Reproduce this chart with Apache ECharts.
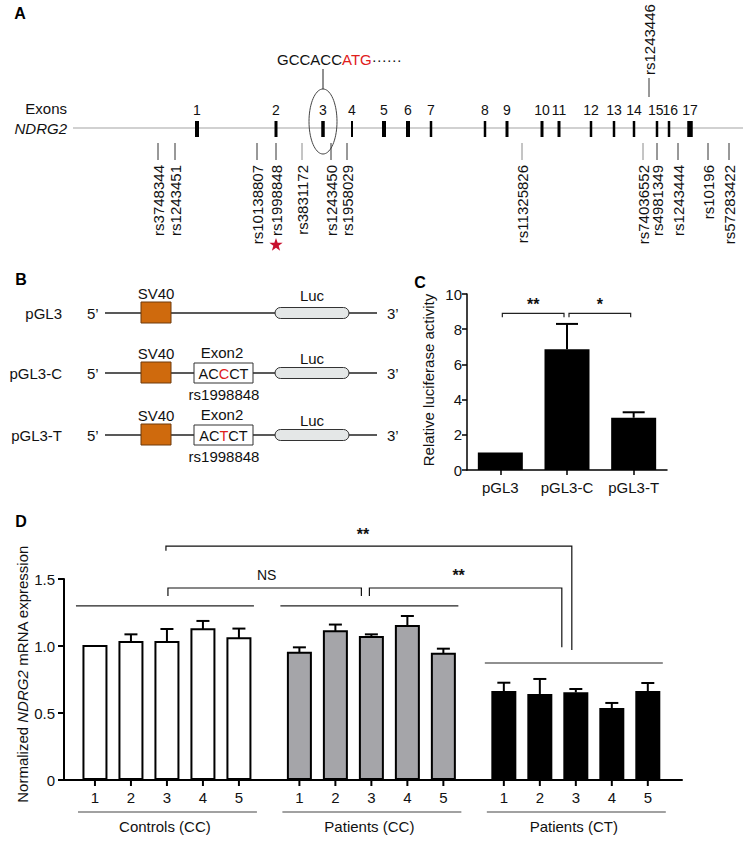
<!DOCTYPE html>
<html><head><meta charset="utf-8">
<script src="https://cdn.jsdelivr.net/npm/echarts@6/dist/echarts.min.js"></script>
<style>html,body{margin:0;padding:0;background:#fff}#c{width:753px;height:847px}</style>
</head><body><div id="c"></div>
<script>
// ---------- Panel A data (gene map, relative coordinates along NDRG2) ----------
const geneStart = 0, geneEnd = 670;
const exonLabels = ['1','2','3','4','5','6','7','8','9','10','11','12','13','14','15','16','17'];
const exonPos = [124, 203, 250, 279, 311, 335, 358, 412, 434, 469, 486, 518, 541, 561, 584, 596, 617];
const exonLength = [4, 3, 3.5, 2, 4, 4, 2.5, 2.5, 3, 3, 3, 2.5, 2.5, 2.5, 2.5, 2.5, 5.5];
const snpBelowNames = ['rs3748344','rs1243451','rs10138807','rs1998848','rs3831172','rs1243450','rs1958029','rs11325826','rs74036552','rs4981349','rs1243444','rs10196','rs57283422'];
const snpBelowPos = [85, 102, 184, 203, 229, 258, 274, 449, 570, 584, 605, 635, 656];
const snpAboveNames = ['rs1243446'];
const snpAbovePos = [576];
const highlightSnp = 'rs1998848';
const startExon = '3';
const kozakSeq = ['GCCACC', 'ATG', '······'];

// ---------- Panel B data ----------
const constructs = ['pGL3', 'pGL3-C', 'pGL3-T'];
const inserts = [null, ['AC', 'C', 'CT'], ['AC', 'T', 'CT']];

// ---------- Panel C data ----------
const cCats = ['pGL3', 'pGL3-C', 'pGL3-T'];
const cMean = [1.0, 6.86, 2.97];
const cErr = [0, 1.44, 0.31];
const cSigLabels = ['**', '*'];
const cSigFrom = [0, 1];
const cSigTo = [1, 2];
const cSigY = [8.9, 8.9];
const cTicks = [0, 2, 4, 6, 8, 10];

// ---------- Panel D data ----------
const dGroups = ['Controls (CC)', 'Patients (CC)', 'Patients (CT)'];
const dSubjects = ['1', '2', '3', '4', '5'];
const dMean = [
  [1.00, 1.03, 1.03, 1.125, 1.057],
  [0.95, 1.11, 1.067, 1.149, 0.943],
  [0.664, 0.642, 0.654, 0.537, 0.664]
];
const dErr = [
  [0, 0.057, 0.097, 0.062, 0.073],
  [0.04, 0.05, 0.02, 0.075, 0.037],
  [0.062, 0.112, 0.025, 0.038, 0.06]
];
const dGroupLine = [1.30, 1.30, 0.873];
const dSigLabels = ['**', 'NS', '**'];
const dSigY = [1.746, 1.433, 1.433];
const dSigFrom = [[0, 2], [0, 2], [1, 2]];
const dSigTo = [[2, 2], [1, 2], [2, 2]];
const dSigLeftEnd = [1.71, 1.373, 1.373];
const dSigRightEnd = [0.97, 1.373, 0.99];
const dTicks = [0, 0.5, 1.0, 1.5];

// ---------- helpers ----------
const FONT = '"Liberation Sans", Arial, Helvetica, sans-serif';
function f(size, extra) { return (extra ? extra + ' ' : '') + size + 'px ' + FONT; }
function txt(x, y, text, opt) {
  opt = opt || {};
  return {type: 'text', x: x, y: y, rotation: opt.rotation || 0, style: {
    text: text, font: opt.font || f(15), fill: opt.fill || '#111',
    align: opt.align || 'center', verticalAlign: opt.va || 'middle', rich: opt.rich
  }};
}
function starPoints(cx, cy, R, r) {
  const pts = [];
  for (let k = 0; k < 10; k++) {
    const a = -Math.PI / 2 + k * Math.PI / 5;
    const rr = k % 2 === 0 ? R : r;
    pts.push([cx + rr * Math.cos(a), cy + rr * Math.sin(a)]);
  }
  return pts;
}
function ellipsePoints(cx, cy, rx, ry) {
  const pts = [];
  for (let k = 0; k < 72; k++) {
    const a = k / 72 * Math.PI * 2;
    pts.push([cx + rx * Math.cos(a), cy + ry * Math.sin(a)]);
  }
  return pts;
}

// D layout: bar position on a value axis
const GROUP_GAP = 5.68;
function dPos(g, i) { return g * GROUP_GAP + i; }
const dBarData = [];
dMean.forEach((arr, g) => arr.forEach((v, i) => dBarData.push([dPos(g, i), v, dErr[g][i], g, i])));
const dErrData = dBarData.filter(d => d[2] > 0);
const dFill = ['#ffffff', '#a5a5a9', '#000000'];

const chart = echarts.init(document.getElementById('c'), null, {renderer: 'svg'});

const series = [];

// ===== Panel A =====
series.push({
  type: 'custom', xAxisIndex: 0, yAxisIndex: 0, silent: true, data: [[0, 0]],
  renderItem: function (p, api) {
    const a = api.coord([geneStart, 0]), b = api.coord([geneEnd, 0]);
    return {type: 'group', children: [
      {type: 'line', shape: {x1: a[0], y1: a[1], x2: b[0], y2: b[1]}, style: {stroke: '#c2c2c2', lineWidth: 1.6}},
      txt(a[0] - 6, a[1] - 20, 'Exons', {align: 'right'}),
      txt(a[0] - 6, a[1], 'NDRG2', {align: 'right', font: f(15, 'italic')})
    ]};
  }
});
const exonLabelNudge = {'15': -1.2, '16': 1.2};
series.push({
  type: 'custom', xAxisIndex: 0, yAxisIndex: 0, silent: true,
  data: exonPos.map((x, i) => [x, exonLength[i]]),
  renderItem: function (p, api) {
    const c = api.coord([api.value(0), 0]);
    const w = api.size([api.value(1), 0])[0];
    const label = exonLabels[p.dataIndex];
    const children = [
      {type: 'rect', shape: {x: c[0] - w / 2, y: c[1] - 7, width: w, height: 16}, style: {fill: '#000'}},
      txt(c[0] + (exonLabelNudge[label] || 0), c[1] - 18, label, {font: f(14)})
    ];
    if (label === startExon) {
      children.push({type: 'polygon', shape: {points: ellipsePoints(c[0], c[1] - 6.5, 14, 32.5)}, style: {fill: 'none', stroke: '#444', lineWidth: 1}});
      children.push({type: 'line', shape: {x1: c[0], y1: c[1] - 59, x2: c[0], y2: c[1] - 39}, style: {stroke: '#222', lineWidth: 1}});
      children.push(txt(c[0] - 46, c[1] - 69, '{k|' + kozakSeq[0] + '}{r|' + kozakSeq[1] + '}{k|' + kozakSeq[2] + '}', {
        align: 'left', rich: {k: {font: f(15), fill: '#111'}, r: {font: f(15), fill: '#e0201b'}}
      }));
    }
    return {type: 'group', children: children};
  }
});
const lightSnps = ['rs3831172', 'rs11325826', 'rs74036552'];
series.push({
  type: 'custom', xAxisIndex: 0, yAxisIndex: 0, silent: true,
  data: snpBelowPos.map(x => [x, 0]),
  renderItem: function (p, api) {
    const c = api.coord([api.value(0), 0]);
    const name = snpBelowNames[p.dataIndex];
    const children = [
      {type: 'line', shape: {x1: c[0], y1: c[1] + 15, x2: c[0], y2: c[1] + 32}, style: {stroke: lightSnps.indexOf(name) >= 0 ? '#8a8a8a' : '#333', lineWidth: 1}},
      txt(c[0], c[1] + 37, name, {rotation: Math.PI / 2, align: 'right'})
    ];
    if (name === highlightSnp) {
      children.push({type: 'polygon', shape: {points: starPoints(c[0], c[1] + 117, 7, 2.8)}, style: {fill: '#c8102e'}});
    }
    return {type: 'group', children: children};
  }
});
series.push({
  type: 'custom', xAxisIndex: 0, yAxisIndex: 0, silent: true,
  data: snpAbovePos.map(x => [x, 0]),
  renderItem: function (p, api) {
    const c = api.coord([api.value(0), 0]);
    return {type: 'group', children: [
      {type: 'line', shape: {x1: c[0], y1: c[1] - 50, x2: c[0], y2: c[1] - 31}, style: {stroke: '#333', lineWidth: 1}},
      txt(c[0], c[1] - 53, snpAboveNames[p.dataIndex], {rotation: Math.PI / 2, align: 'left'})
    ]};
  }
});

// ===== Panel C =====
series.push({
  type: 'bar', xAxisIndex: 1, yAxisIndex: 1, data: cMean, barWidth: 45,
  itemStyle: {color: '#000'}, silent: true, z: 2
});
series.push({
  type: 'custom', xAxisIndex: 1, yAxisIndex: 1, silent: true, z: 3,
  data: cMean.map((v, i) => [i, v, cErr[i]]).filter(d => d[2] > 0),
  renderItem: function (p, api) {
    const i = api.value(0), v = api.value(1), e = api.value(2);
    const a = api.coord([i, v]), b = api.coord([i, v + e]);
    return {type: 'group', children: [
      {type: 'line', shape: {x1: a[0], y1: a[1], x2: b[0], y2: b[1]}, style: {stroke: '#000', lineWidth: 2}},
      {type: 'line', shape: {x1: b[0] - 11, y1: b[1], x2: b[0] + 11, y2: b[1]}, style: {stroke: '#000', lineWidth: 2}}
    ]};
  }
});
series.push({
  type: 'custom', xAxisIndex: 1, yAxisIndex: 1, silent: true,
  data: cSigLabels.map((s, i) => [i, cSigY[i]]),
  renderItem: function (p, api) {
    const k = p.dataIndex;
    const a = api.coord([cSigFrom[k], cSigY[k]]), b = api.coord([cSigTo[k], cSigY[k]]);
    const lx = a[0] + 2, rx = b[0] - 3, y = a[1];
    return {type: 'group', children: [
      {type: 'polyline', shape: {points: [[lx, y + 4], [lx, y], [rx, y], [rx, y + 4]]}, style: {fill: 'none', stroke: '#222', lineWidth: 1.2}},
      txt((lx + rx) / 2, y - 9, cSigLabels[k], {font: f(16, 'bold')})
    ]};
  }
});

// ===== Panel D =====
series.push({
  type: 'custom', xAxisIndex: 2, yAxisIndex: 2, silent: true, z: 2,
  data: dBarData,
  renderItem: function (p, api) {
    const x = api.value(0), v = api.value(1), g = api.value(3);
    const top = api.coord([x, v]), base = api.coord([x, 0]);
    const children = [];
    if (g === 2) {
      children.push({type: 'rect', shape: {x: top[0] - 12.5, y: top[1], width: 25, height: base[1] - top[1]}, style: {fill: '#000'}});
    } else {
      children.push({type: 'rect', shape: {x: top[0] - 11.5, y: top[1], width: 23, height: base[1] - top[1] - 1}, style: {fill: dFill[g], stroke: '#000', lineWidth: 2}});
    }
    children.push({type: 'line', shape: {x1: base[0], y1: base[1], x2: base[0], y2: base[1] + 6}, style: {stroke: '#000', lineWidth: 2}});
    children.push(txt(base[0], base[1] + 17, dSubjects[api.value(4)]));
    return {type: 'group', children: children};
  }
});
series.push({
  type: 'custom', xAxisIndex: 2, yAxisIndex: 2, silent: true, z: 3,
  data: dErrData,
  renderItem: function (p, api) {
    const x = api.value(0), v = api.value(1), e = api.value(2);
    const top = api.coord([x, v]), t = api.coord([x, v + e]);
    return {type: 'group', children: [
      {type: 'line', shape: {x1: top[0], y1: top[1], x2: t[0], y2: t[1]}, style: {stroke: '#000', lineWidth: 2}},
      {type: 'line', shape: {x1: t[0] - 6.5, y1: t[1], x2: t[0] + 6.5, y2: t[1]}, style: {stroke: '#000', lineWidth: 2}}
    ]};
  }
});
series.push({
  type: 'custom', xAxisIndex: 2, yAxisIndex: 2, silent: true,
  data: dGroups.map((s, g) => [dPos(g, 0), dGroupLine[g]]),
  renderItem: function (p, api) {
    const g = p.dataIndex;
    const a = api.coord([dPos(g, 0), dGroupLine[g]]), b = api.coord([dPos(g, 4), dGroupLine[g]]);
    const a0 = api.coord([dPos(g, 0), 0]), b0 = api.coord([dPos(g, 4), 0]);
    return {type: 'group', children: [
      {type: 'line', shape: {x1: a[0] - 19, y1: a[1], x2: b[0] + 15, y2: b[1]}, style: {stroke: '#222', lineWidth: 1.2}},
      {type: 'line', shape: {x1: a0[0] - 17, y1: a0[1] + 32, x2: b0[0] + 18, y2: b0[1] + 32}, style: {stroke: '#444', lineWidth: 1.2}},
      txt((a0[0] + b0[0]) / 2 - 2, a0[1] + 46, dGroups[g])
    ]};
  }
});
const dSigOffset = [[-1, -4], [1, -10], [-2, -14]];
series.push({
  type: 'custom', xAxisIndex: 2, yAxisIndex: 2, silent: true,
  data: dSigLabels.map((s, k) => [0, dSigY[k]]),
  renderItem: function (p, api) {
    const k = p.dataIndex;
    const a = api.coord([dPos(dSigFrom[k][0], dSigFrom[k][1]), dSigY[k]]);
    const b = api.coord([dPos(dSigTo[k][0], dSigTo[k][1]), dSigY[k]]);
    const la = api.coord([0, dSigLeftEnd[k]])[1], rb = api.coord([0, dSigRightEnd[k]])[1];
    const lx = a[0] + dSigOffset[k][0], rx = b[0] + dSigOffset[k][1], y = a[1];
    const isNS = dSigLabels[k] === 'NS';
    return {type: 'group', children: [
      {type: 'polyline', shape: {points: [[lx, la], [lx, y], [rx, y], [rx, rb]]}, style: {fill: 'none', stroke: '#111', lineWidth: 1.2}},
      txt((lx + rx) / 2 - (k === 0 ? 6 : (isNS ? -2 : 7)), y - (isNS ? 13 : 12), dSigLabels[k], {font: isNS ? f(14) : f(16, 'bold')})
    ]};
  }
});

// ===== Panel B (schematic constructs) =====
const graphics = [];
const rowY = [313, 373, 435];
const lucLabelGap = [18, 15, 15];
constructs.forEach((name, i) => {
  const y = rowY[i];
  graphics.push({type: 'line', shape: {x1: 105, y1: y, x2: 377, y2: y}, style: {stroke: '#222', lineWidth: 1.5}});
  graphics.push(txt(62, y, name, {align: 'right'}));
  graphics.push(txt(87, y, '5\u2019', {align: 'left'}));
  graphics.push(txt(387, y, '3\u2019', {align: 'left'}));
  graphics.push({type: 'rect', shape: {x: 141, y: y - 11, width: 30, height: 21}, style: {fill: '#cf6a0d', stroke: '#6e3b0c', lineWidth: 1}});
  graphics.push(txt(156, y - 20, 'SV40'));
  graphics.push({type: 'rect', shape: {x: 275, y: y - 5.5, width: 74, height: 11, r: 5.5}, style: {fill: '#e4e7e7', stroke: '#333', lineWidth: 1}});
  graphics.push(txt(312, y - lucLabelGap[i], 'Luc'));
  if (inserts[i]) {
    graphics.push({type: 'rect', shape: {x: 194, y: y - 10, width: 59, height: 20}, style: {fill: '#fff', stroke: '#333', lineWidth: 1}});
    graphics.push(txt(223.5, y + 1, '{k|' + inserts[i][0] + '}{r|' + inserts[i][1] + '}{k|' + inserts[i][2] + '}', {
      rich: {k: {font: f(14.5), fill: '#111'}, r: {font: f(14.5), fill: '#e0201b'}}
    }));
    graphics.push(txt(222, y - 21, 'Exon2'));
    graphics.push(txt(224, y + 21, highlightSnp));
  }
});
// panel letters and axis titles
graphics.push(txt(20, 13, 'A', {font: f(16, 'bold'), fill: '#000'}));
graphics.push(txt(21, 279, 'B', {font: f(16, 'bold'), fill: '#000'}));
graphics.push(txt(420, 282, 'C', {font: f(16, 'bold'), fill: '#000'}));
graphics.push(txt(21, 521, 'D', {font: f(16, 'bold'), fill: '#000'}));
graphics.push(txt(428, 380, 'Relative luciferase activity', {rotation: Math.PI / 2}));
graphics.push(txt(22, 674, '{n|Normalized }{i|NDRG2}{n| mRNA expression}', {
  rotation: Math.PI / 2, rich: {n: {font: f(15), fill: '#111'}, i: {font: f(15, 'italic'), fill: '#111'}}
}));

const axisFont = {fontSize: 15, color: '#111', fontFamily: FONT};

chart.setOption({
  animation: false,
  backgroundColor: '#fff',
  grid: [
    {left: 73, top: 100, width: 670, height: 28},
    {left: 467, top: 294, width: 200, height: 176},
    {left: 64, top: 579, width: 618, height: 201}
  ],
  xAxis: [
    {gridIndex: 0, type: 'value', min: geneStart, max: geneEnd, show: false},
    {gridIndex: 1, type: 'category', data: cCats,
      axisLine: {show: true, lineStyle: {color: '#000', width: 1.5}},
      axisTick: {show: true, alignWithLabel: true, length: 5, lineStyle: {color: '#000', width: 1.5}},
      axisLabel: Object.assign({margin: 10, interval: 0}, axisFont)},
    {gridIndex: 2, type: 'value', min: -0.86, max: 16.31,
      axisLine: {show: true, onZero: false, lineStyle: {color: '#000', width: 2}},
      axisTick: {show: false}, axisLabel: {show: false}, splitLine: {show: false}}
  ],
  yAxis: [
    {gridIndex: 0, type: 'value', min: 0, max: 1, show: false},
    {gridIndex: 1, type: 'value', min: cTicks[0], max: cTicks[cTicks.length - 1], interval: 2,
      axisLine: {show: true, onZero: false, lineStyle: {color: '#000', width: 1.5}},
      axisTick: {show: true, length: 5, lineStyle: {color: '#000', width: 1.5}},
      axisLabel: Object.assign({margin: 5}, axisFont), splitLine: {show: false}},
    {gridIndex: 2, type: 'value', min: dTicks[0], max: dTicks[dTicks.length - 1], interval: 0.5,
      axisLine: {show: true, onZero: false, lineStyle: {color: '#000', width: 2}},
      axisTick: {show: true, length: 6, lineStyle: {color: '#000', width: 2}},
      axisLabel: Object.assign({margin: 9, formatter: v => v === 0 ? '0' : v.toFixed(1)}, axisFont),
      splitLine: {show: false}}
  ],
  graphic: {elements: graphics},
  series: series
});
</script>
</body></html>
